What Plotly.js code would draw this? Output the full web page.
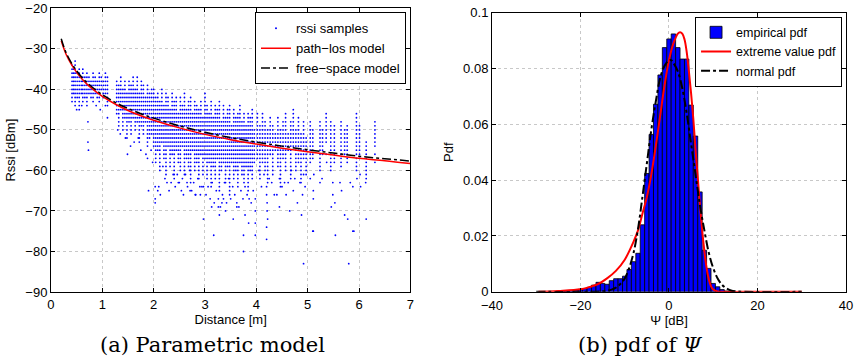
<!DOCTYPE html>
<html><head><meta charset="utf-8">
<script src="https://cdn.plot.ly/plotly-3.0.1.min.js"></script>
<style>html,body{margin:0;padding:0;background:#fff}#chart{width:854px;height:363px}</style>
</head><body><div id="chart"></div>
<script>
// ---------- (a) scatter: vertical stripes of integer RSSI samples ----------
const stripeDist = [0.41,0.44,0.47,0.51,0.55,0.59,0.62,0.66,0.70,0.74,0.78,0.82,0.86,0.90,0.94,0.98,1.02,1.06,1.10,
 1.28,1.32,1.36,1.40,1.44,1.48,1.52,1.56,1.60,1.64,1.68,1.72,1.76,1.80,1.84,1.88,1.92,1.96,
 2.00,2.04,2.08,2.12,2.16,2.20,2.24,2.28,2.32,2.36,2.40,2.44,2.48,2.52,2.56,2.60,2.64,2.68,2.72,2.76,2.80,2.84,2.88,2.92,2.96,
 3.00,3.04,3.08,3.12,3.16,3.20,3.24,3.28,3.32,3.36,3.40,3.44,3.48,3.52,3.56,3.60,3.64,3.68,3.72,3.76,3.80,3.84,3.88,3.92,3.96,
 4.02,4.07,4.12,4.17,4.22,4.27,4.32,4.37,4.42,4.47,4.52,4.57,4.62,4.67,4.72,4.77,4.82,4.87,4.92,4.97,
 5.05,5.10,5.24,5.29,5.36,5.45,5.52,5.65,5.72,5.77,5.95,6.01,6.14,6.31];
const stripeTop = [-34,-35,-33,-36,-35,-37,-35,-37,-36,-37,-38,-36,-37,-38,-36,-37,-38,-36,-37,
 -38,-39,-37,-40,-38,-41,-38,-39,-37,-40,-37,-41,-38,-39,-42,-39,-41,-40,
 -40,-42,-41,-43,-40,-44,-41,-42,-45,-41,-43,-42,-46,-42,-44,-41,-45,-43,-42,-46,-43,-44,-45,-43,-47,
 -41,-44,-46,-43,-47,-44,-45,-43,-48,-44,-47,-45,-44,-49,-45,-47,-46,-44,-48,-46,-49,-46,-47,-45,-50,
 -46,-49,-46,-48,-50,-47,-49,-51,-47,-50,-48,-46,-51,-48,-45,-50,-47,-51,-48,-52,
 -48,-50,-48,-50,-46,-48,-49,-48,-50,-49,-46,-49,-53,-48];
const stripeBot = [-43,-41,-44,-42,-45,-41,-43,-42,-44,-41,-42,-43,-41,-42,-43,-40,-42,-41,-43,
 -46,-49,-45,-50,-47,-52,-48,-51,-47,-50,-48,-53,-49,-51,-48,-54,-52,-51,
 -54,-58,-55,-60,-53,-57,-61,-54,-59,-56,-62,-55,-58,-60,-54,-61,-57,-59,-63,-55,-60,-58,-62,-56,-61,
 -57,-62,-58,-64,-59,-61,-57,-65,-60,-58,-63,-59,-66,-58,-62,-60,-64,-58,-61,-63,-59,-65,-60,-62,-58,
 -57,-62,-58,-60,-63,-56,-61,-55,-59,-64,-57,-60,-55,-62,-54,-60,-58,-63,-57,-61,
 -58,-57,-60,-56,-53,-60,-58,-59,-56,-58,-60,-57,-62,-54];
const outlierDist = [0.50,0.72,0.72,0.73,0.60,1.10,1.10,0.88,0.96,1.06,
 1.49,1.30,1.35,1.45,1.55,1.62,1.70,1.75,1.85,1.90,1.95,2.03,2.03,2.03,2.13,2.08,1.98,1.88,
 2.10,2.18,2.26,2.30,2.38,2.42,2.50,2.56,2.58,2.62,2.66,2.70,2.74,2.78,2.82,2.86,2.90,2.94,2.22,2.34,2.46,2.54,2.71,2.91,2.97,2.48,2.65,2.81,2.97,
 3.02,3.06,3.10,3.14,3.18,3.22,3.26,3.30,3.34,3.38,3.42,3.46,3.50,3.54,3.58,3.62,3.66,3.70,3.74,3.78,3.82,3.86,3.90,3.94,3.98,
 3.17,3.13,3.26,3.33,3.20,3.36,3.62,3.55,3.78,3.98,3.98,3.75,3.75,3.98,3.85,3.40,3.28,
 4.05,4.10,4.15,4.20,4.20,4.21,4.21,4.22,4.20,4.20,4.25,4.30,4.35,4.40,4.45,4.50,4.55,4.58,4.62,4.68,4.72,4.75,4.80,4.85,4.88,4.92,4.95,4.92,4.45,4.65,4.90,
 5.05,5.11,5.11,5.11,5.12,5.24,5.28,5.49,5.49,5.46,5.53,5.54,5.63,5.66,5.72,5.78,5.88,5.88,5.80,5.83,5.90,5.96,6.02,6.03,6.14,6.13,6.31,6.31,5.36,5.37,5.10];
const outlierRssi = [-45,-48,-53,-55,-44,-47,-44,-44,-45,-44,
 -56,-50,-51,-52,-54,-53,-52,-55,-56,-65,-55,-64,-67,-68,-66,-65,-58,-57,
 -64,-59,-63,-65,-61,-64,-63,-62,-66,-61,-64,-60,-65,-63,-66,-62,-64,-64,-62,-63,-61,-65,-65,-66,-72,-63,-63,-66,-64,
 -66,-64,-67,-63,-68,-65,-67,-69,-66,-63,-68,-62,-67,-64,-66,-68,-69,-65,-67,-64,-66,-67,-68,-65,-67,
 -76,-69,-69,-68,-62,-67,-69,-72,-71,-70,-73,-76,-80,-76,-73,-70,-71,
 -60,-64,-61,-64,-66,-68,-70,-72,-74,-77,-62,-63,-66,-66,-62,-64,-63,-66,-63,-60,-65,-62,-68,-63,-71,-61,-64,-83,-69,-70,-66,
 -62,-65,-67,-75,-61,-63,-62,-63,-66,-69,-68,-76,-63,-65,-71,-72,-64,-75,-83,-63,-75,-62,-61,-64,-72,-63,-56,-58,-56,-58,-75];
// model curves
const modelDist = [0.2,0.25,0.3,0.4,0.5,0.6,0.7,0.8,1.0,1.25,1.5,1.75,2,2.5,3,3.5,4,4.5,5,5.5,6,6.5,7];
const pathLos   = [-28,-29.9,-31.5,-33.9,-35.8,-37.4,-38.7,-39.8,-41.7,-43.6,-45.2,-46.5,-47.6,-49.5,-51.1,-52.4,-53.5,-54.5,-55.4,-56.2,-57.0,-57.6,-58.3];
const freeSpace = [-27.5,-29.5,-31.1,-33.5,-35.4,-37.0,-38.3,-39.4,-41.3,-43.2,-44.7,-46.0,-47.1,-49.0,-50.6,-51.9,-53.0,-54.0,-54.9,-55.7,-56.5,-57.1,-57.7];

// ---------- (b) histogram & pdfs ----------
const binCenter = [-25,-24,-23,-22,-21,-20,-19,-18,-17,-16,-15,-14,-13,-12,-11,-10,-9,-8,-7,-6,-5,-4,-3,-2,-1,0,1,2,3,4,5,6,7,8,9,10,11,12,13,14];
const empPdf = [0.0002,0.0003,0.0004,0.0005,0.0007,0.0009,0.0012,0.0016,0.0024,0.0034,0.0030,0.0027,0.0040,0.0047,0.0047,0.0056,0.0080,0.0108,0.0138,0.0240,
 0.0424,0.0564,0.0672,0.0777,0.0875,0.0906,0.0924,0.0875,0.0834,0.0834,0.0669,0.0558,0.0358,0.0149,0.0084,0.0030,0.0018,0.0008,0.0003,0.0002];
const evX = [-29.5,-25,-20,-18,-16,-14,-12,-10,-8,-7,-6,-5,-4,-3,-2,-1,0,1,2,2.5,3,3.5,4,4.5,5,5.5,6,6.5,7,7.5,8,8.5,9,9.5,10,11,12,20,30];
const evPdf = [0,0.0003,0.0009,0.0017,0.0028,0.0048,0.0075,0.0115,0.018,0.022,0.028,0.034,0.042,0.052,0.063,0.074,0.083,0.089,0.0925,0.093,0.0925,0.0905,0.086,0.079,0.071,0.062,0.051,0.041,0.031,0.022,0.0145,0.0085,0.0045,0.002,0.0008,0.0001,0,0,0];
const nX = [-30,-20,-15,-13,-12,-11,-10,-9,-8,-7,-6,-5,-4,-3,-2,-1,0,0.5,1,2,3,4,5,6,7,8,9,10,11,12,13,14,15,17,30];
const nPdf = [0,0,0.0002,0.0008,0.0015,0.0028,0.0048,0.0085,0.014,0.0225,0.034,0.046,0.058,0.068,0.0765,0.081,0.083,0.083,0.082,0.079,0.073,0.064,0.053,0.042,0.031,0.022,0.014,0.0085,0.0048,0.0025,0.0012,0.0005,0.0002,0,0];

const xTicksA = [0,1,2,3,4,5,6,7];
const yTicksA = [-90,-80,-70,-60,-50,-40,-30,-20];
const xTicksB = [-40,-20,0,20,40];
const yTicksB = [0,0.02,0.04,0.06,0.08,0.1];
const yTickTextB = ['0','0.02','0.04','0.06','0.08','0.1'];

const sx = [], sy = [];
for (let i = 0; i < stripeDist.length; i++) {
  for (let v = stripeTop[i]; v >= stripeBot[i]; v--) { sx.push(stripeDist[i]); sy.push(v); }
}
for (let i = 0; i < outlierDist.length; i++) { sx.push(outlierDist[i]); sy.push(outlierRssi[i]); }

const FONT = 'Liberation Sans, Arial, sans-serif';
const traces = [
  {type:'scatter', mode:'markers', x:sx, y:sy, name:'rssi samples', xaxis:'x', yaxis:'y', legend:'legend',
   marker:{color:'#0000ff', size:1.8, line:{width:0}}},
  {type:'scatter', mode:'lines', x:modelDist, y:pathLos, name:'path\u2212los model', xaxis:'x', yaxis:'y', legend:'legend',
   line:{color:'#ff0000', width:1.5, shape:'spline'}},
  {type:'scatter', mode:'lines', x:modelDist, y:freeSpace, name:'free\u2212space model', xaxis:'x', yaxis:'y', legend:'legend',
   line:{color:'#000000', width:1.5, dash:'dashdot', shape:'spline'}},
  {type:'bar', x:binCenter, y:empPdf, width:1, name:'empirical pdf', xaxis:'x2', yaxis:'y2', legend:'legend2',
   marker:{color:'#0000ff', line:{color:'#000000', width:0.8}}},
  {type:'scatter', mode:'lines', x:evX, y:evPdf, name:'extreme value pdf', xaxis:'x2', yaxis:'y2', legend:'legend2',
   line:{color:'#ff0000', width:2, shape:'spline'}},
  {type:'scatter', mode:'lines', x:nX, y:nPdf, name:'normal pdf', xaxis:'x2', yaxis:'y2', legend:'legend2',
   line:{color:'#000000', width:2, dash:'dashdot', shape:'spline'}}
];

const axisCommon = {showline:true, linecolor:'#000', linewidth:1, mirror:'allticks', ticks:'inside', ticklen:4, tickcolor:'#000',
  showgrid:true, gridcolor:'#c8c8c8', griddash:'dot', gridwidth:1, zeroline:false, tickfont:{family:FONT, size:13, color:'#000'}};

const layout = {
  width:854, height:363, margin:{l:0,r:0,t:0,b:0}, paper_bgcolor:'#fff', plot_bgcolor:'#fff',
  showlegend:true, bargap:0, font:{family:FONT, color:'#000'},
  xaxis: Object.assign({}, axisCommon, {domain:[0.0597,0.4805], range:[0,7], tickvals:xTicksA, anchor:'y',
    title:{text:'Distance [m]', font:{family:FONT,size:13}, standoff:0}}),
  yaxis: Object.assign({}, axisCommon, {domain:[0.1956,0.977], range:[-90,-20], tickvals:yTicksA, anchor:'x',
    title:{text:'Rssi [dBm]', font:{family:FONT,size:13}, standoff:6}}),
  xaxis2: Object.assign({}, axisCommon, {domain:[0.5761,0.9906], range:[-40,40], tickvals:xTicksB, anchor:'y2', ticklabelstandoff:2,
    title:{text:'\u03a8 [dB]', font:{family:FONT,size:13}, standoff:0}}),
  yaxis2: Object.assign({}, axisCommon, {domain:[0.1961,0.965], range:[0,0.1], tickvals:yTicksB, ticktext:yTickTextB, anchor:'x2',
    title:{text:'Pdf', font:{family:FONT,size:13}, standoff:6}}),
  legend:{x:0.4754, y:0.966, xanchor:'right', yanchor:'top', bgcolor:'#fff', bordercolor:'#000', borderwidth:1,
    font:{family:FONT, size:13}, tracegroupgap:0, itemwidth:30},
  legend2:{x:0.986, y:0.954, xanchor:'right', yanchor:'top', bgcolor:'#fff', bordercolor:'#000', borderwidth:1,
    font:{family:FONT, size:12.5}, tracegroupgap:0, itemwidth:30},
  annotations:[
    {text:'(a) Parametric model', xref:'paper', yref:'paper', x:0.249, y:0.05, xanchor:'center', yanchor:'middle', showarrow:false,
     font:{family:'DejaVu Serif, Liberation Serif, serif', size:21, color:'#000'}},
    {text:'(b) pdf of <i>\u03a8</i>', xref:'paper', yref:'paper', x:0.75, y:0.05, xanchor:'center', yanchor:'middle', showarrow:false,
     font:{family:'DejaVu Serif, Liberation Serif, serif', size:21, color:'#000'}}
  ]
};
Plotly.newPlot('chart', traces, layout, {staticPlot:true, displayModeBar:false});
</script></body></html>
